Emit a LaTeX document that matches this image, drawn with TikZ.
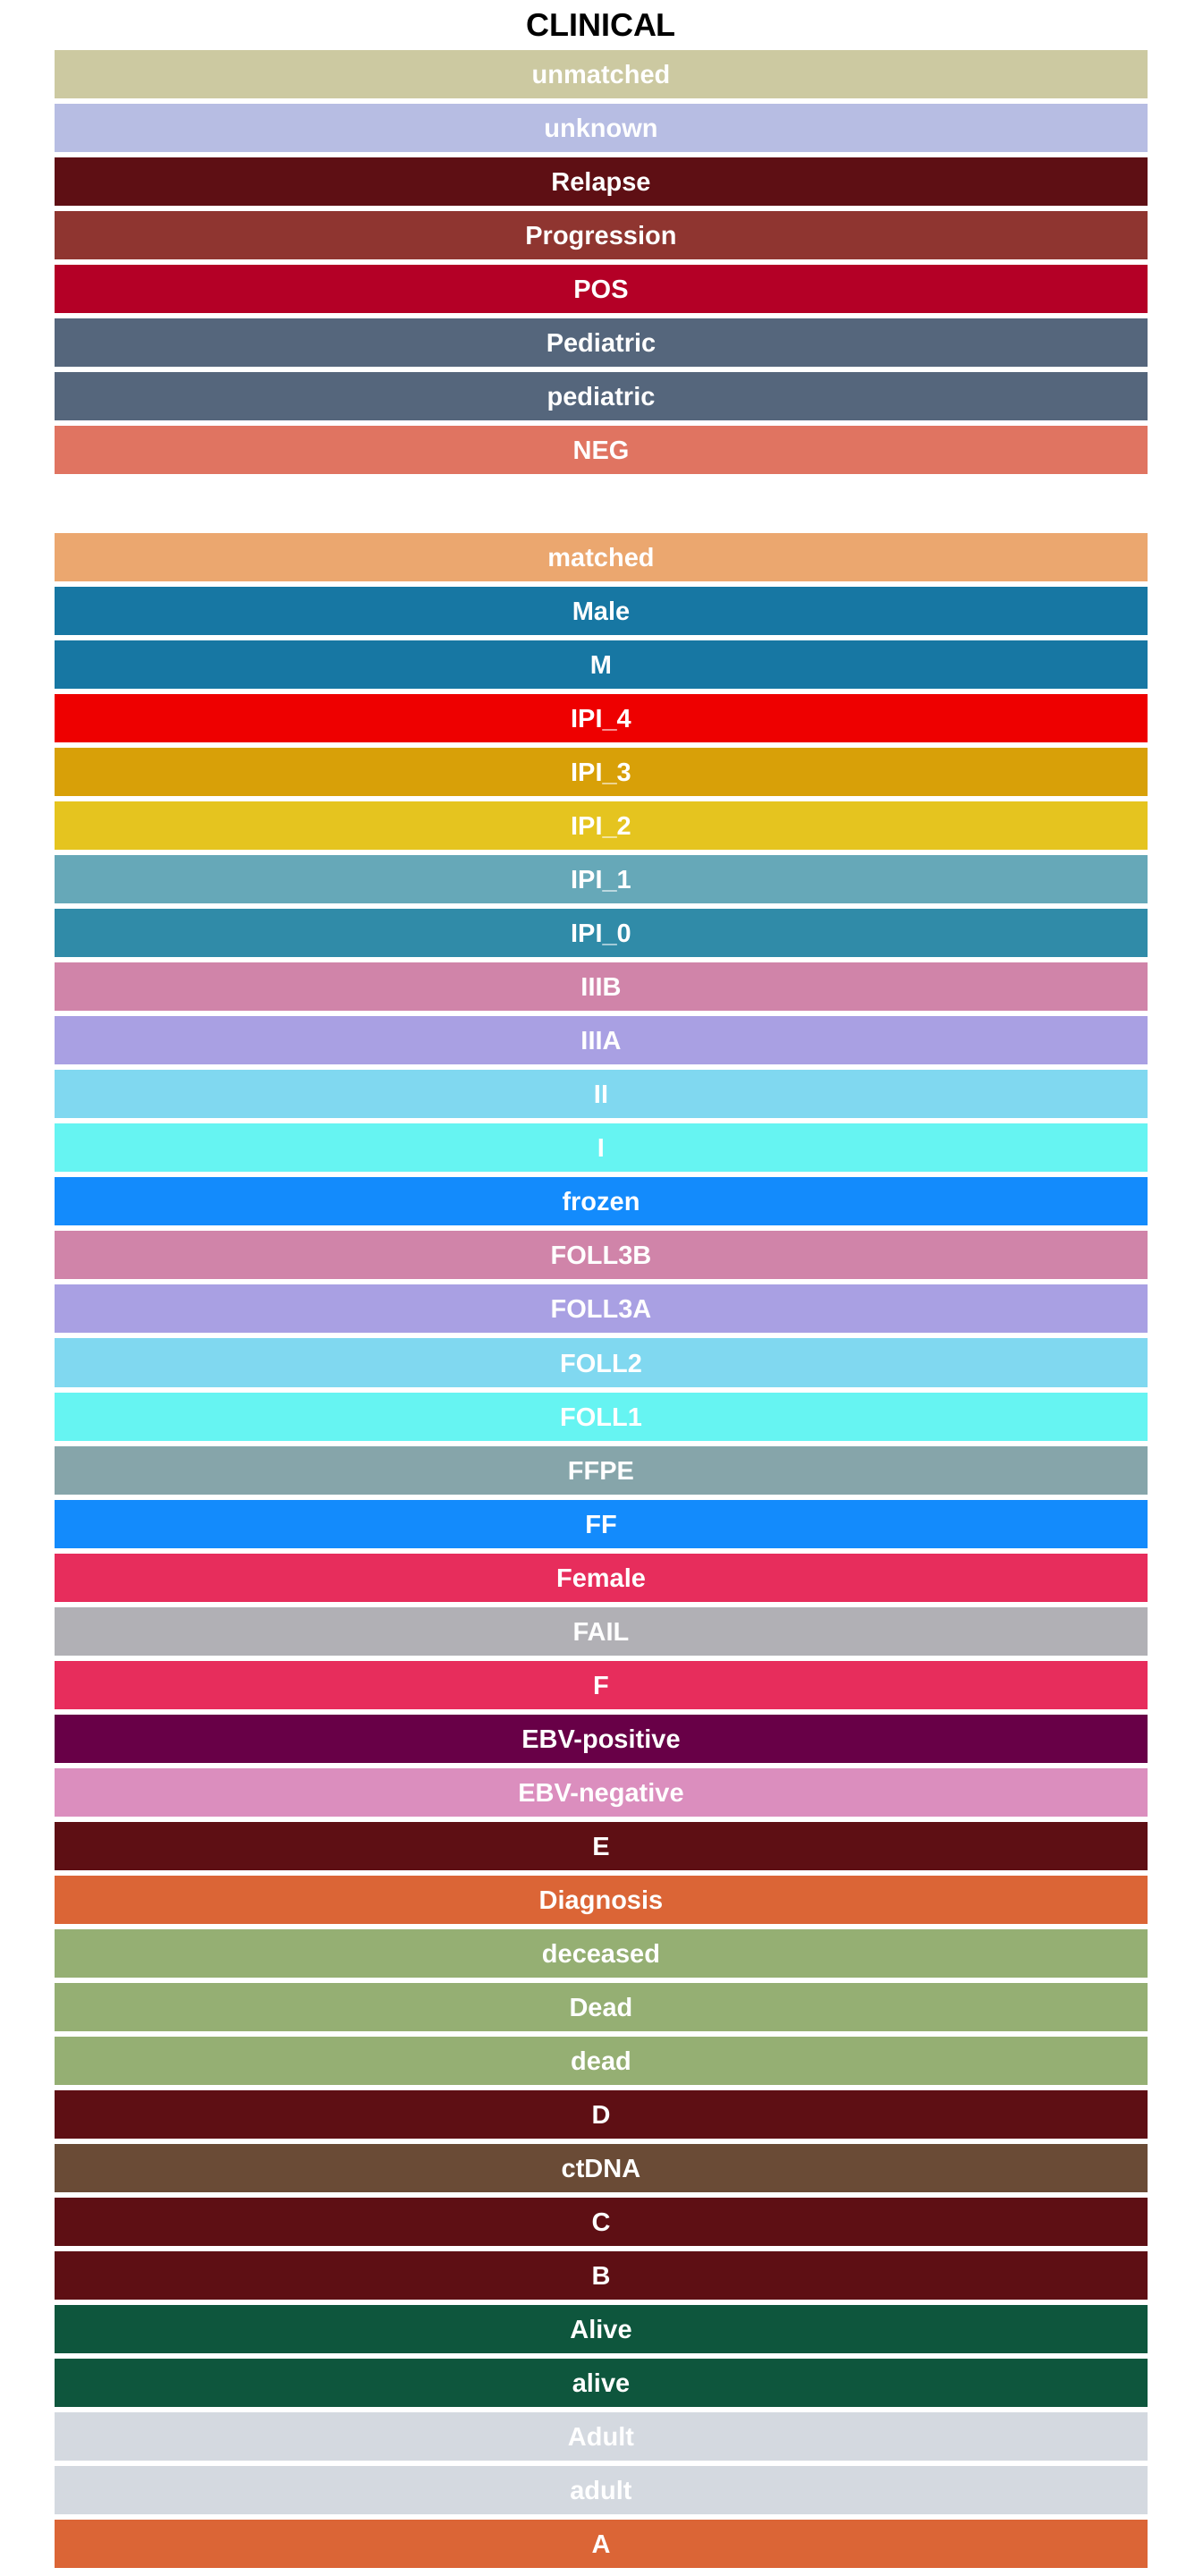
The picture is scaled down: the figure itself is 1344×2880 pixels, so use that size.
\documentclass[tikz,border=0pt]{standalone}
\usepackage{fontspec}
\setmainfont{Liberation Sans}
\definecolor{cUnm}{HTML}{CCC9A1}
\definecolor{cUnk}{HTML}{B7BDE3}
\definecolor{cRel}{HTML}{5E0F14}
\definecolor{cProg}{HTML}{8F3530}
\definecolor{cPos}{HTML}{B40026}
\definecolor{cPed}{HTML}{55667C}
\definecolor{cNeg}{HTML}{E07461}
\definecolor{cMat}{HTML}{EBA76F}
\definecolor{cMale}{HTML}{1777A3}
\definecolor{cIPIf}{HTML}{EE0000}
\definecolor{cIPIt}{HTML}{D8A008}
\definecolor{cIPIs}{HTML}{E5C41F}
\definecolor{cIPIo}{HTML}{66A8B8}
\definecolor{cIPIz}{HTML}{308BA8}
\definecolor{cIIIB}{HTML}{D084A9}
\definecolor{cIIIA}{HTML}{A9A0E3}
\definecolor{cII}{HTML}{80D8F0}
\definecolor{cI}{HTML}{66F4F2}
\definecolor{cFrz}{HTML}{138BFC}
\definecolor{cFFPE}{HTML}{86A5AA}
\definecolor{cFem}{HTML}{E72D5C}
\definecolor{cFail}{HTML}{B1B0B5}
\definecolor{cEBVp}{HTML}{680047}
\definecolor{cEBVn}{HTML}{DB8EBE}
\definecolor{cDiag}{HTML}{DB6536}
\definecolor{cDead}{HTML}{95AF73}
\definecolor{cCt}{HTML}{6A4B36}
\definecolor{cAlive}{HTML}{0E563D}
\definecolor{cAdult}{HTML}{D4D9E0}
\begin{document}
\begin{tikzpicture}[x=1pt,y=-1pt,
  barbox/.style={minimum width=1222pt, minimum height=54pt, inner sep=0pt,
    text=white, text height=21pt, text depth=0pt,
    font=\fontsize{29}{29}\selectfont\bfseries}]
\useasboundingbox[fill=white] (0,0) rectangle (1344,2880);
\node[font=\fontsize{36}{36}\selectfont\bfseries, text height=26pt, text depth=0pt, inner sep=0pt] (title) at (672,27) {CLINICAL};
\foreach \lab/\col/\i [count=\n] in {
  unmatched/cUnm/0, unknown/cUnk/1, Relapse/cRel/2, Progression/cProg/3,
  POS/cPos/4, Pediatric/cPed/5, pediatric/cPed/6, NEG/cNeg/7,
  matched/cMat/9, Male/cMale/10, M/cMale/11, IPI\_4/cIPIf/12, IPI\_3/cIPIt/13,
  IPI\_2/cIPIs/14, IPI\_1/cIPIo/15, IPI\_0/cIPIz/16, IIIB/cIIIB/17, IIIA/cIIIA/18,
  II/cII/19, I/cI/20, frozen/cFrz/21, FOLL3B/cIIIB/22, FOLL3A/cIIIA/23,
  FOLL2/cII/24, FOLL1/cI/25, FFPE/cFFPE/26, FF/cFrz/27, Female/cFem/28,
  FAIL/cFail/29, F/cFem/30, EBV-positive/cEBVp/31, EBV-negative/cEBVn/32,
  E/cRel/33, Diagnosis/cDiag/34, deceased/cDead/35, Dead/cDead/36, dead/cDead/37,
  D/cRel/38, ctDNA/cCt/39, C/cRel/40, B/cRel/41, Alive/cAlive/42, alive/cAlive/43,
  Adult/cAdult/44, adult/cAdult/45, A/cDiag/46}
{
  \node[barbox, fill=\col] (bar\n) at (672,{83+60.02*\i}) {\lab};
}
\end{tikzpicture}
\end{document}
